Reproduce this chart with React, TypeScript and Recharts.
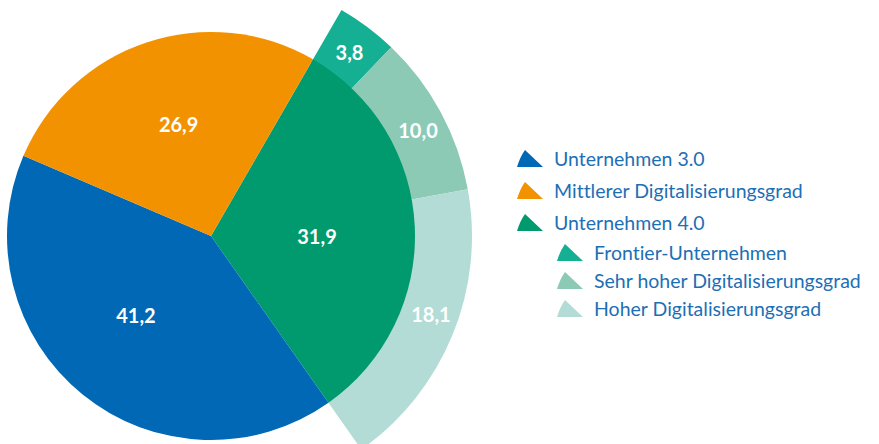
import { Pie, PieChart, Cell } from "recharts";

const MAIN_NAMES = ["Unternehmen 4.0", "Unternehmen 3.0", "Mittlerer Digitalisierungsgrad"];
const MAIN_VALUES = [31.9, 41.2, 26.9];
const SUB_NAMES = ["Frontier-Unternehmen", "Sehr hoher Digitalisierungsgrad", "Hoher Digitalisierungsgrad"];
const SUB_VALUES = [3.8, 10.0, 18.1];
const LEGEND_MAIN = ["Unternehmen 3.0", "Mittlerer Digitalisierungsgrad", "Unternehmen 4.0"];

const COLORS: Record<string, string> = {
  "Unternehmen 3.0": "#0068b4",
  "Mittlerer Digitalisierungsgrad": "#f39200",
  "Unternehmen 4.0": "#009a6e",
  "Frontier-Unternehmen": "#15b093",
  "Sehr hoher Digitalisierungsgrad": "#8ccab5",
  "Hoher Digitalisierungsgrad": "#b3dcd6",
};
// label placement: radius in px and a small angular nudge (degrees, clockwise)
const LABEL_POS: Record<string, [number, number]> = {
  "Unternehmen 4.0": [106, 2],
  "Unternehmen 3.0": [108, 5],
  "Mittlerer Digitalisierungsgrad": [118, 2.5],
  "Frontier-Unternehmen": [231, 0],
  "Sehr hoher Digitalisierungsgrad": [233, 1],
  "Hoher Digitalisierungsgrad": [233, -3],
};

const mainData = MAIN_NAMES.map((name, i) => ({ name, value: MAIN_VALUES[i] }));
const subData = SUB_NAMES.map((name, i) => ({ name, value: SUB_VALUES[i] }));
const total = MAIN_VALUES.reduce((a, b) => a + b, 0);
const subTotal = SUB_VALUES.reduce((a, b) => a + b, 0);

const START = 60;
const RAD = Math.PI / 180;
const fmt = (v: number) => v.toFixed(1).replace(".", ",");

const FONT = "Lato, 'Open Sans', sans-serif";

function renderLabel(props: any) {
  const { cx, cy, midAngle, value, name } = props;
  const [r, nudge] = LABEL_POS[name] ?? [110, 0];
  const a = (midAngle - nudge) * RAD;
  const x = cx + r * Math.cos(-a);
  const y = cy + r * Math.sin(-a);
  return (
    <text
      x={x}
      y={y}
      dy={1}
      fill="#fff"
      textAnchor="middle"
      dominantBaseline="central"
      fontSize={20}
      fontWeight={700}
      fontFamily={FONT}
    >
      {fmt(value)}
    </text>
  );
}

function Icon({ color }: { color: string }) {
  return (
    <svg width={26} height={17} style={{ display: "block" }}>
      <path d="M0 17 Q3 7 8 0 L26 17 Z" fill={color} />
    </svg>
  );
}

function LegendRow({ name, sub }: { name: string; sub: boolean }) {
  return (
    <div
      style={{
        display: "flex",
        alignItems: "center",
        height: sub ? 28.3 : 32,
        paddingLeft: sub ? 40 : 0,
      }}
    >
      <Icon color={COLORS[name]} />
      <span
        style={{
          marginLeft: 11,
          color: "#1d6fb5",
          fontSize: 19.5,
          fontFamily: FONT,
          fontVariantLigatures: "none",
          whiteSpace: "nowrap",
        }}
      >
        {name}
      </span>
    </div>
  );
}

export default function App() {
  return (
    <div style={{ position: "absolute", left: 0, top: 0, width: 879, height: 444, background: "#fff", overflow: "hidden" }}>
      <PieChart width={879} height={444} margin={{ top: 0, right: 0, bottom: 0, left: 0 }}>
        <Pie
          data={subData}
          dataKey="value"
          cx={211}
          cy={236}
          innerRadius={200}
          outerRadius={261}
          startAngle={START}
          endAngle={START - (subTotal / total) * 360}
          stroke="none"
          labelLine={false}
          label={renderLabel}
          isAnimationActive={false}
        >
          {subData.map((d) => (
            <Cell key={d.name} fill={COLORS[d.name]} />
          ))}
        </Pie>
        <Pie
          data={mainData}
          dataKey="value"
          cx={211}
          cy={236}
          outerRadius={204}
          startAngle={START}
          endAngle={START - 360}
          stroke="none"
          labelLine={false}
          label={renderLabel}
          isAnimationActive={false}
        >
          {mainData.map((d) => (
            <Cell key={d.name} fill={COLORS[d.name]} />
          ))}
        </Pie>
      </PieChart>
      <div style={{ position: "absolute", left: 517, top: 142 }}>
        {LEGEND_MAIN.map((n) => (
          <LegendRow key={n} name={n} sub={false} />
        ))}
        {SUB_NAMES.map((n) => (
          <LegendRow key={n} name={n} sub={true} />
        ))}
      </div>
    </div>
  );
}
